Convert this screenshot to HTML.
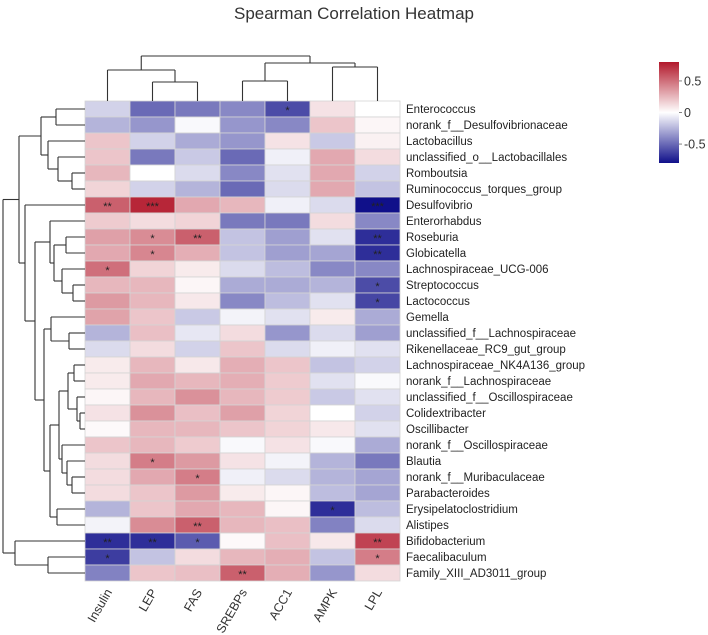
<!DOCTYPE html>
<html><head><meta charset="utf-8"><style>
html,body{margin:0;padding:0;background:#fff;}
svg{display:block;font-family:"Liberation Sans",Arial,sans-serif;}
</style></head><body>
<svg id="chart" width="708" height="635" viewBox="0 0 708 635">
<text x="354" y="19" text-anchor="middle" font-size="17" fill="#333">Spearman Correlation Heatmap</text>
<g id="cells"></g>
<g id="rowlabels"></g>
<g id="collabels"></g>
<g id="dendro"></g>
<g id="legend"></g>
</svg>
<script>
const columns = ["Insulin","LEP","FAS","SREBPs","ACC1","AMPK","LPL"];
const rows = ["Enterococcus","norank_f__Desulfovibrionaceae","Lactobacillus","unclassified_o__Lactobacillales","Romboutsia","Ruminococcus_torques_group","Desulfovibrio","Enterorhabdus","Roseburia","Globicatella","Lachnospiraceae_UCG-006","Streptococcus","Lactococcus","Gemella","unclassified_f__Lachnospiraceae","Rikenellaceae_RC9_gut_group","Lachnospiraceae_NK4A136_group","norank_f__Lachnospiraceae","unclassified_f__Oscillospiraceae","Colidextribacter","Oscillibacter","norank_f__Oscillospiraceae","Blautia","norank_f__Muribaculaceae","Parabacteroides","Erysipelatoclostridium","Alistipes","Bifidobacterium","Faecalibaculum","Family_XIII_AD3011_group"];
const values = [
[-0.15,-0.5,-0.45,-0.4,-0.6,0.1,0.0],
[-0.25,-0.35,-0.02,-0.35,-0.4,0.2,0.03],
[0.2,-0.15,-0.28,-0.35,0.1,-0.18,0.05],
[0.2,-0.45,-0.18,-0.5,-0.05,0.3,0.12],
[0.25,0.0,-0.12,-0.4,-0.1,0.3,-0.15],
[0.15,-0.15,-0.25,-0.5,-0.12,0.3,-0.2],
[0.55,0.75,0.3,0.25,-0.05,-0.12,-0.8],
[0.18,0.12,0.15,-0.45,-0.45,0.12,-0.4],
[0.33,0.4,0.55,-0.2,-0.32,-0.1,-0.7],
[0.3,0.42,0.28,-0.2,-0.32,-0.3,-0.7],
[0.5,0.15,0.07,-0.12,-0.22,-0.4,-0.4],
[0.25,0.25,0.03,-0.28,-0.28,-0.25,-0.6],
[0.35,0.25,0.08,-0.4,-0.22,-0.1,-0.62],
[0.32,0.2,-0.18,-0.04,-0.1,0.07,-0.28],
[-0.25,0.22,-0.08,0.12,-0.35,-0.12,-0.32],
[-0.12,0.12,-0.15,0.2,-0.12,-0.05,-0.1],
[0.07,0.25,0.08,0.28,0.2,-0.2,-0.15],
[0.07,0.3,0.25,0.28,0.18,-0.1,-0.02],
[0.03,0.25,0.38,0.25,0.18,-0.18,-0.1],
[0.1,0.38,0.22,0.33,0.15,0.0,-0.15],
[0.02,0.25,0.25,0.2,0.15,0.08,-0.1],
[0.2,0.25,0.18,-0.02,0.1,-0.02,-0.28],
[0.12,0.45,0.35,0.1,-0.04,-0.25,-0.45],
[0.12,0.3,0.45,-0.05,-0.12,-0.25,-0.3],
[0.12,0.2,0.35,0.07,0.03,-0.22,-0.3],
[-0.25,0.2,0.3,0.25,0.03,-0.7,-0.22],
[-0.04,0.4,0.55,0.25,0.22,-0.42,-0.12],
[-0.7,-0.7,-0.55,0.02,0.22,0.08,0.65],
[-0.65,-0.2,0.12,0.25,0.28,-0.2,0.45],
[-0.42,0.2,0.22,0.55,0.28,-0.35,0.12]
];
const stars = [
["","","","","*","",""],["","","","","","",""],["","","","","","",""],["","","","","","",""],["","","","","","",""],["","","","","","",""],
["**","***","","","","","***"],["","","","","","",""],["","*","**","","","","**"],["","*","","","","","**"],["*","","","","","",""],
["","","","","","","*"],["","","","","","","*"],["","","","","","",""],["","","","","","",""],["","","","","","",""],["","","","","","",""],
["","","","","","",""],["","","","","","",""],["","","","","","",""],["","","","","","",""],["","","","","","",""],["","*","","","","",""],
["","","*","","","",""],["","","","","","",""],["","","","","","*",""],["","","**","","","",""],["**","**","*","","","","**"],["*","","","","","","*"],["","","","**","","",""]
];
const legendTicks = [0.5, 0, -0.5];

const NS="http://www.w3.org/2000/svg";
const X0=85, X1=400, Y0=101, Y1=581;
const cw=(X1-X0)/columns.length, rh=(Y1-Y0)/rows.length;
const xPos=i=>X0+i*cw, yPos=j=>Y0+j*rh;
function color(v){
  let t=Math.max(-1,Math.min(1,v/0.8));
  let c;
  if(t>=0) c=[255+(178-255)*t,255+(24-255)*t,255+(43-255)*t];
  else {t=-t; c=[255+(16-255)*t,255+(16-255)*t,255+(138-255)*t];}
  return "rgb("+c.map(Math.round).join(",")+")";
}
function mk(tag,attrs,parent){const e=document.createElementNS(NS,tag);for(const k in attrs)e.setAttribute(k,attrs[k]);parent.appendChild(e);return e;}
const cells=document.getElementById("cells");
rows.forEach((r,j)=>{columns.forEach((c,i)=>{
  const el=mk("rect",{x:xPos(i),y:yPos(j),width:cw,height:rh,fill:color(values[j][i]),stroke:"#d4d4d4","stroke-width":0.8},cells);
  
  
  if(stars[j][i]){
    const t=mk("text",{x:xPos(i)+cw/2,y:yPos(j)+rh/2+5,"text-anchor":"middle","font-size":"11",fill:"#222"},cells);
    t.textContent=stars[j][i];
    
    
  }
});});
const rl=document.getElementById("rowlabels");
rows.forEach((r,j)=>{
  const t=mk("text",{x:X1+6,y:yPos(j)+rh/2+4,"font-size":"11.5",fill:"#222"},rl);
  t.textContent=r;
  
  
  mk("line",{x1:X0-4,x2:X0,y1:yPos(j)+rh/2,y2:yPos(j)+rh/2,stroke:"#444","stroke-width":0.8},rl);
});
const cl=document.getElementById("collabels");
columns.forEach((c,i)=>{
  const cx=xPos(i)+cw/2+5, cy=Y1+11;
  const t=mk("text",{x:cx,y:cy,"font-size":"12.5",fill:"#333","text-anchor":"end",transform:"rotate(-60 "+cx+" "+cy+")"},cl);
  t.textContent=c;
  
  
  mk("line",{x1:xPos(i)+cw/2,x2:xPos(i)+cw/2,y1:Y0-4,y2:Y0,stroke:"#444","stroke-width":0.8},cl);
});
// dendrograms
const dg=document.getElementById("dendro");
function seg(x1,y1,x2,y2){mk("line",{x1,y1,x2,y2,stroke:"#333","stroke-width":1.1},dg);}
// row tree: [height x, left, right]; leaf = index
const rowTree=[3,[19,[41,[56,0,1],[48,2,[58,3,[72,4,5]]]],[25,6,[35,[50,7,[54,[66,8,9],[62,10,[73,11,12]]]],[44,[51,13,[69,14,15]],[50,[59,[68,[74,16,17],[77,18,[80,19,20]]],[62,21,[67,22,[72,23,24]]]],[57,25,26]]]]]],[15,27,[48,28,29]]];
function drawRow(n){
  if(typeof n==="number") return {y:yPos(n)+rh/2,x:X0};
  const a=drawRow(n[1]), b=drawRow(n[2]), x=n[0];
  seg(a.x,a.y,x,a.y); seg(b.x,b.y,x,b.y); seg(x,a.y,x,b.y);
  return {y:(a.y+b.y)/2,x:x};
}
drawRow(rowTree);
const colTree=[56,[70,0,[82,1,2]],[63,[81,3,4],[67,5,6]]];
function drawCol(n){
  if(typeof n==="number") return {x:xPos(n)+cw/2,y:Y0};
  const a=drawCol(n[1]), b=drawCol(n[2]), y=n[0];
  seg(a.x,a.y,a.x,y); seg(b.x,b.y,b.x,y); seg(a.x,y,b.x,y);
  return {x:(a.x+b.x)/2,y:y};
}
drawCol(colTree);
// legend
const lg=document.getElementById("legend");
const defs=mk("defs",{},lg);
const grad=mk("linearGradient",{id:"lgr",x1:0,y1:0,x2:0,y2:1},defs);
[0.8,0.4,0,-0.4,-0.8].forEach((v,k)=>mk("stop",{offset:(k/4),"stop-color":color(v)},grad));
const LB0=62, LB1=163, lv=v=>LB0+(0.8-v)/1.6*(LB1-LB0);
const bar=mk("rect",{x:659,y:LB0,width:20,height:LB1-LB0,fill:"url(#lgr)"},lg);


legendTicks.forEach(v=>{
  mk("line",{x1:679,x2:682,y1:lv(v),y2:lv(v),stroke:"#666","stroke-width":0.8},lg);
  const t=mk("text",{x:684,y:lv(v)+4.5,"font-size":"12.5",fill:"#333"},lg);
  t.textContent=v===0?"0":String(v);
  
  
});
</script>
</body></html>
